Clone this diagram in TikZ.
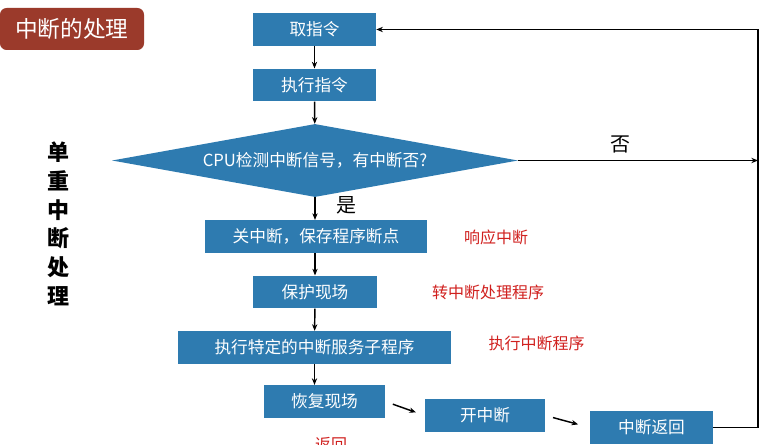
\documentclass[tikz,border=0pt]{standalone}
\usepackage{fontspec}
\setmainfont{Noto Sans CJK SC}
\usetikzlibrary{shapes.geometric,arrows.meta}
\definecolor{boxblue}{HTML}{2E7BB0}
\definecolor{titlered}{HTML}{9B3A2B}
\definecolor{notered}{HTML}{D0201E}
\begin{document}
\begin{tikzpicture}[x=0.75pt,y=-0.75pt,
flowbox/.style ={rectangle, fill=boxblue, text=white,
  font=\fontsize{12.5}{14}\selectfont,
  minimum height=24.5pt, inner sep=0pt
},
decide/.style ={diamond, fill=boxblue, text=white,
  font=\fontsize{12.5}{14}\selectfont,
  aspect=5.56, inner sep=0pt,
  minimum width=304.5pt, minimum height=54.75pt
},
note/.style ={text=notered, font=\fontsize{12}{14}\selectfont},
flowline/.style ={line width=1.1pt, -{Stealth[length=5pt,width=4pt]}}]
\useasboundingbox (0,0) rectangle (769,445);
% title tab
\node (title) at (72,29) [rectangle, rounded corners=5pt, fill=titlered,
  text=white, minimum width=108pt, minimum height=31.5pt,
  font=\fontsize{17}{20}\selectfont] {中断的处理};
\node (side) at (58,224) [align=center, font=\fontsize{16.5}{21.5}\selectfont\bfseries]
  {单\\重\\中\\断\\处\\理};
% main flow
\node (fetch) at (314.5,29.5) [flowbox, minimum width=92.25pt] {取指令};
\node (exec) at (314.5,85) [flowbox, minimum width=92.25pt] {执行指令};
\node (check) at (315,160.5) [decide] {CPU检测中断信号，有中断否?};
\node (save) at (316,236.5) [flowbox, minimum width=166.5pt] {关中断，保存程序断点};
\node (protect) at (315,292) [flowbox, minimum width=93pt] {保护现场};
\node (serve) at (314.5,347.5) [flowbox, minimum width=204.75pt] {执行特定的中断服务子程序};
\node (restore) at (324.5,401.5) [flowbox, minimum width=90.75pt] {恢复现场};
\node (enable) at (485,415.5) [flowbox, minimum width=90pt] {开中断};
\node (ret) at (651.5,427.5) [flowbox, minimum width=92.25pt] {中断返回};
% labels
\node (yes) at (346,205) [font=\fontsize{15}{18}\selectfont] {是};
\node (no) at (620,144) [font=\fontsize{15}{18}\selectfont] {否};
\node (n1) at (496,237) [note] {响应中断};
\node (n2) at (488,292) [note] {转中断处理程序};
\node (n3) at (536.5,343) [note] {执行中断程序};
\node (n4) at (331,445) [note] {返回};
% connectors
\coordinate (loopbr) at (758,427.5);
\coordinate (looptr) at (758,29.5);
\draw[flowline] (fetch) -- (exec);
\draw[flowline] (exec) -- (check);
\draw[flowline] (check.south) -- (save.north -| check.south);
\draw[flowline] (save.south -| protect.north) -- (protect.north);
\draw[flowline] (protect) -- (serve);
\draw[flowline] (serve.south) -- (restore.north -| serve.south);
\draw[flowline, shorten <=6pt, shorten >=7pt] (restore.east) -- (enable.west);
\draw[flowline, shorten <=6pt, shorten >=9pt] (enable.east) -- (ret.west);
\draw[flowline] (check.east) -- (check.east -| loopbr);
\draw[flowline] (ret.east) -- (loopbr) -- (looptr) -- (fetch.east);
\end{tikzpicture}
\end{document}
